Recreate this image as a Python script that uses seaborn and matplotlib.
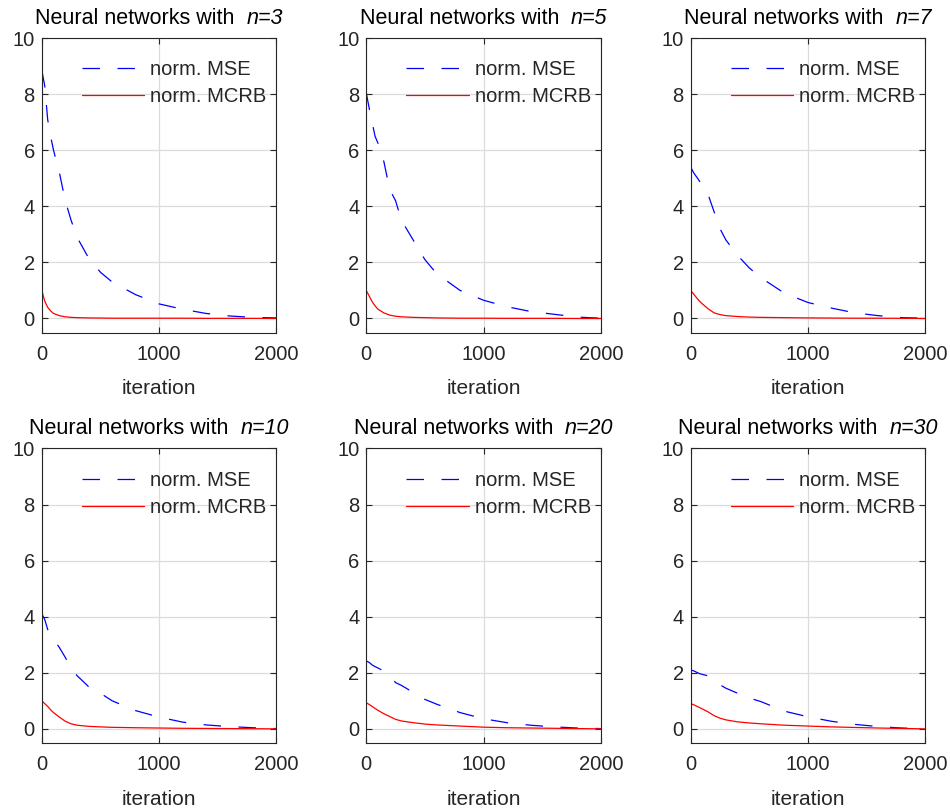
import numpy as np
import pandas as pd
import matplotlib
matplotlib.use("Agg")
import matplotlib.pyplot as plt
import seaborn as sns

# sampled iterations (shared x for every panel)
iterations = [0, 25, 50, 75, 100, 150, 200, 250, 300, 400, 500, 600, 800,
              1000, 1200, 1400, 1600, 1800, 2000]

n_values = [3, 5, 7, 10, 20, 30]

mse_n3 = [8.85, 8.3, 7.1, 6.5, 6.0, 5.2, 4.2, 3.5, 2.9, 2.15, 1.65, 1.3, 0.85,
          0.52, 0.33, 0.18, 0.09, 0.04, 0.02]
mse_n5 = [8.05, 7.5, 7.0, 6.5, 6.25, 5.6, 4.6, 4.2, 3.5, 2.8, 2.1, 1.6, 1.0,
          0.65, 0.42, 0.25, 0.15, 0.05, 0.01]
mse_n7 = [5.4, 5.2, 5.05, 4.9, 4.7, 4.4, 3.8, 3.2, 2.8, 2.25, 1.8, 1.45, 0.9,
          0.57, 0.37, 0.2, 0.1, 0.03, 0.01]
mse_n10 = [4.1, 3.9, 3.55, 3.35, 3.2, 2.9, 2.55, 2.15, 1.9, 1.5, 1.27, 1.0, 0.65,
           0.42, 0.24, 0.14, 0.08, 0.04, 0.01]
mse_n20 = [2.42, 2.37, 2.28, 2.22, 2.17, 2.06, 1.9, 1.65, 1.55, 1.3, 1.05, 0.88, 0.58,
           0.36, 0.22, 0.13, 0.07, 0.03, 0.01]
mse_n30 = [2.1, 2.07, 2.02, 1.97, 1.94, 1.89, 1.72, 1.57, 1.45, 1.27, 1.1, 0.97, 0.63,
           0.43, 0.27, 0.16, 0.08, 0.03, 0.0]

mcrb_n3 = [1.0, 0.62, 0.4, 0.27, 0.18, 0.1, 0.06, 0.04, 0.03, 0.02, 0.015, 0.01, 0.01,
           0.01, 0.01, 0.005, 0.005, 0.005, 0.0]
mcrb_n5 = [1.0, 0.8, 0.6, 0.45, 0.33, 0.2, 0.12, 0.08, 0.06, 0.04, 0.03, 0.02, 0.01,
           0.01, 0.005, 0.005, 0.005, 0.0, 0.0]
mcrb_n7 = [1.0, 0.87, 0.74, 0.62, 0.52, 0.34, 0.2, 0.14, 0.1, 0.07, 0.05, 0.04, 0.03,
           0.02, 0.015, 0.01, 0.01, 0.005, 0.0]
mcrb_n10 = [1.0, 0.9, 0.8, 0.68, 0.58, 0.42, 0.27, 0.18, 0.13, 0.09, 0.07, 0.055, 0.04,
            0.03, 0.02, 0.015, 0.01, 0.005, 0.0]
mcrb_n20 = [0.93, 0.87, 0.8, 0.73, 0.66, 0.54, 0.44, 0.34, 0.28, 0.22, 0.17, 0.14, 0.1,
            0.06, 0.04, 0.03, 0.02, 0.01, 0.0]
mcrb_n30 = [0.9, 0.86, 0.81, 0.76, 0.71, 0.6, 0.47, 0.38, 0.32, 0.25, 0.21, 0.18, 0.13,
            0.1, 0.07, 0.05, 0.03, 0.015, 0.0]

mse_all = [mse_n3, mse_n5, mse_n7, mse_n10, mse_n20, mse_n30]
mcrb_all = [mcrb_n3, mcrb_n5, mcrb_n7, mcrb_n10, mcrb_n20, mcrb_n30]

x_ticks = [0, 1000, 2000]
y_ticks = [0, 2, 4, 6, 8, 10]

sns.set_theme(style="ticks")
plt.rcParams["font.family"] = ["Liberation Sans", "DejaVu Sans"]

fig, axes = plt.subplots(2, 3, figsize=(9.5, 8.11), dpi=100)
fig.subplots_adjust(left=0.044, right=0.974, bottom=0.084, top=0.953,
                    wspace=0.383, hspace=0.394)

title_parts = []
for ax, n, mse, mcrb in zip(axes.flat, n_values, mse_all, mcrb_all):
    df = pd.DataFrame({"iteration": iterations, "mse": mse, "mcrb": mcrb})
    sns.lineplot(data=df, x="iteration", y="mse", ax=ax, color="#0000ff", lw=0.9,
                 linestyle=(0, (14, 14)), label="norm. MSE")
    sns.lineplot(data=df, x="iteration", y="mcrb", ax=ax, color="#ff0000", lw=0.9,
                 label="norm. MCRB")
    ax.set_xlim(0, 2000)
    ax.set_ylim(-0.5, 10)
    ax.set_xticks(x_ticks)
    ax.set_yticks(y_ticks)
    ax.grid(True, color="#dcdcdc", lw=0.9)
    ax.tick_params(direction="in", top=True, right=True, length=4, width=0.8,
                   labelsize=14.5, colors="#262626", pad=9)
    ax.tick_params(axis="y", pad=5)
    for sp in ax.spines.values():
        sp.set_visible(True)
        sp.set_color("#262626")
        sp.set_linewidth(0.8)
    ax.set_xlabel("iteration", fontsize=15, color="#262626", labelpad=11)
    ax.set_ylabel("")
    ax.legend(loc="upper left", bbox_to_anchor=(0.17, 0.925), frameon=False,
              fontsize=14.5, handlelength=3.1, handletextpad=0.3,
              labelspacing=0.4, borderaxespad=0, borderpad=0)
    # title: plain part + italic "n=.." placed right after it
    t1 = ax.text(0.5, 1.0, "Neural networks with  ", transform=ax.transAxes,
                 fontsize=15.5, ha="left", va="bottom", color="black")
    t2 = ax.annotate("n=%d" % n, xy=(1, 0), xycoords=t1, fontsize=15.5,
                     fontstyle="italic", ha="left", va="bottom", color="black")
    title_parts.append((ax, t1, t2))

# center the two-part titles over each axes, a few px above the frame
fig.canvas.draw()
renderer = fig.canvas.get_renderer()
for ax, t1, t2 in title_parts:
    w = t1.get_window_extent(renderer).width + t2.get_window_extent(renderer).width
    bb = ax.get_window_extent(renderer)
    x0 = (bb.x0 + bb.x1) / 2 - w / 2
    inv = ax.transAxes.inverted()
    xa, ya = inv.transform((x0, bb.y1 + 9))
    t1.set_position((xa, ya))

fig.savefig("out.png", dpi=100)
